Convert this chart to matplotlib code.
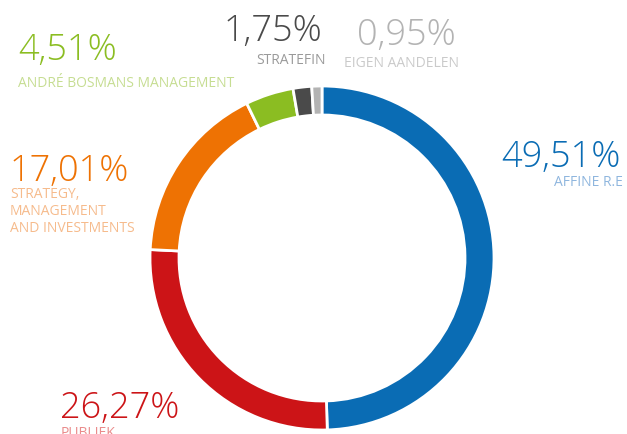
import matplotlib.pyplot as plt

labels = ['AFFINE R.E', 'PUBLIEK', 'STRATEGY,\nMANAGEMENT\nAND INVESTMENTS',
          'ANDRÉ BOSMANS MANAGEMENT', 'STRATEFIN', 'EIGEN AANDELEN']
values = [49.51, 26.27, 17.01, 4.51, 1.75, 0.95]
pct_text = ['49,51%', '26,27%', '17,01%', '4,51%', '1,75%', '0,95%']
colors = ['#0a6cb4', '#cc1417', '#ee7203', '#8bbd22', '#4a4a4a', '#b3b3b3']
light_colors = ['#8fb6de', '#ea8c8c', '#f6bb8c', '#c6dd92', '#9a9a9a', '#cacaca']

W, H = 627, 434
fig = plt.figure(figsize=(W / 100, H / 100), dpi=100)
ax = fig.add_axes([0, 0, 1, 1])

R = 172
ax.pie(values, colors=colors, startangle=90, counterclock=False,
       center=(322, H - 258), radius=R, frame=True,
       wedgeprops=dict(width=29, edgecolor='white', linewidth=2))
ax.set_xlim(0, W)
ax.set_ylim(0, H)
ax.set_aspect('equal')
ax.axis('off')

font = ['Open Sans', 'DejaVu Sans']

# (x, baseline y of pct, ha, x of label, top y of label)
layout = [
    (621, 167, 'right', 623, 175),
    (60, 418, 'left', 61, 426),
    (10, 181, 'left', 10, 187),
    (18, 60, 'left', 18, 76),
    (322, 41, 'right', 326, 53),
    (406, 45, 'center', 401, 56),
]

for i, (px, py, ha, lx, ly) in enumerate(layout):
    ax.text(px, H - py, pct_text[i], color=colors[i], fontsize=26,
            family=font, fontweight='light', ha=ha, va='baseline')
    ax.text(lx, H - ly, labels[i], color=light_colors[i], fontsize=10,
            family=font, ha=ha, va='top',
            linespacing=1.2, multialignment='left')

fig.savefig('out.png', dpi=100, facecolor='white')
